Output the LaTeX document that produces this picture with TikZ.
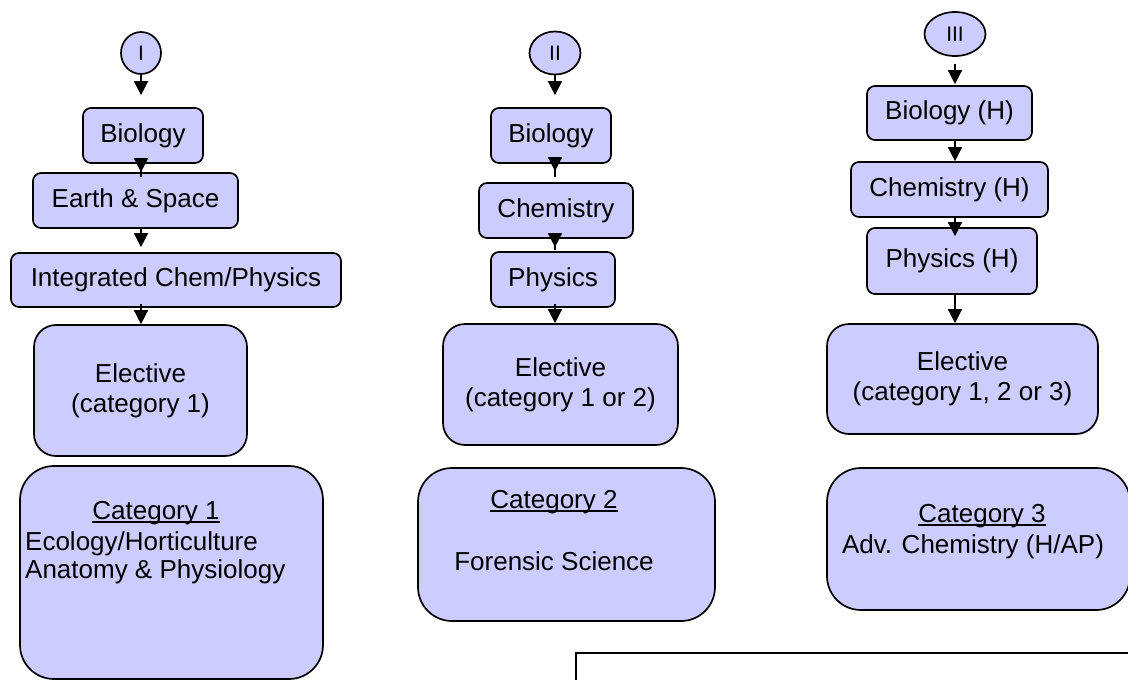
\documentclass[tikz,border=0pt]{standalone}
\usepackage{fontspec}
\setmainfont{Liberation Sans}
\usetikzlibrary{positioning, shapes.geometric, arrows.meta}
\definecolor{lav}{HTML}{CCCCFF}
\newcommand{\cathead}[1]{\setbox0=\hbox{#1}\rlap{\rule[-3.5pt]{\wd0}{1.2pt}}\box0}

\begin{document}
\begin{tikzpicture}[x=1pt, y=-1pt,
  every node/.style={font=\fontsize{26}{30}\selectfont},
  course/.style={draw, line width=1.7pt, fill=lav, rounded corners=8pt, inner sep=0pt, align=center},
  elective/.style={course, rounded corners=22pt},
  catbox/.style={course, rounded corners=34pt},
  track/.style={draw, line width=1.7pt, fill=lav, ellipse, inner sep=0pt, font=\fontsize{21}{23}\selectfont},
  flow/.style={line width=1.6pt, -{Triangle[width=14pt,length=14pt]}},
  entry/.style={inner sep=0pt}]
  \useasboundingbox (0,0) rectangle (1128,680);

  \node[track, minimum width=40pt, minimum height=42pt] (trackI) at (141,53) {I};
  \node[course, minimum width=120pt, minimum height=55pt] (bioI) at (143,135.5) {Biology};
  \node[course, minimum width=205pt, minimum height=55pt] (earthI) at (135.5,200.5) {Earth \& Space};
  \node[course, minimum width=330pt, minimum height=54pt] (chemphysI) at (176,280) {Integrated Chem/Physics};
  \node[elective, minimum width=213pt, minimum height=131pt] (electI) at (140.5,390.5) {Elective\\(category 1)};
  \node[catbox, minimum width=303pt, minimum height=213pt] (catI) at (171.5,572.5) {};
  \node[entry, anchor=base] (catIhead) at (156,519) {\cathead{Category 1}};
  \node[entry, anchor=base west] (catIa) at (25,550) {Ecology/Horticulture};
  \node[entry, anchor=base west] (catIb) at (25,578) {Anatomy \& Physiology};

  \node[track, minimum width=51pt, minimum height=43pt] (trackII) at (555,53) {II};
  \node[course, minimum width=120pt, minimum height=55pt] (bioII) at (551,135.5) {Biology};
  \node[course, minimum width=154pt, minimum height=55pt] (chemII) at (556,210.5) {Chemistry};
  \node[course, minimum width=124pt, minimum height=55pt] (physII) at (553,279.5) {Physics};
  \node[elective, minimum width=235pt, minimum height=121pt] (electII) at (560.5,384.5) {Elective\\(category 1 or 2)};
  \node[catbox, minimum width=297pt, minimum height=153pt] (catII) at (566.5,544.5) {};
  \node[entry, anchor=base] (catIIhead) at (554,508) {\cathead{Category 2}};
  \node[entry, anchor=base] (catIIa) at (554,570) {Forensic Science};

  \node[track, minimum width=61pt, minimum height=44pt] (trackIII) at (955,34) {III};
  \node[course, minimum width=165pt, minimum height=54pt] (bioIII) at (949.5,113) {Biology (H)};
  \node[course, minimum width=197pt, minimum height=55pt] (chemIII) at (949.5,189.5) {Chemistry (H)};
  \node[course, minimum width=170pt, minimum height=66pt] (physIII) at (952,261) {Physics (H)};
  \node[elective, minimum width=271pt, minimum height=110pt] (electIII) at (962.5,379) {Elective\\(category 1, 2 or 3)};
  \node[catbox, minimum width=303pt, minimum height=142pt] (catIII) at (978.5,539) {};
  \node[entry, anchor=base] (catIIIhead) at (982,522) {\cathead{Category 3}};
  \node[entry, anchor=base] (catIIIa) at (973,553) {Adv. Chemistry (H/AP)};

  \node[draw, line width=1.7pt, fill=white, minimum width=570pt, minimum height=60pt, anchor=north west] (notes) at (575,652) {};

  \draw[flow, shorten >=12pt] (trackI) -- (trackI |- bioI.north);
  \draw[flow, shorten <=-13pt] (trackI |- bioI.south) -- (trackI |- earthI.north);
  \draw[flow, shorten >=5pt] (trackI |- earthI.south) -- (trackI |- chemphysI.north);
  \draw[flow, shorten <=-4pt] (trackI |- chemphysI.south) -- (trackI |- electI.north);

  \draw[flow, shorten >=12pt] (trackII) -- (trackII |- bioII.north);
  \draw[flow, shorten <=-13pt, shorten >=11pt] (trackII |- bioII.south) -- (trackII |- chemII.north);
  \draw[flow, shorten <=-11pt, shorten >=4pt] (trackII |- chemII.south) -- (trackII |- physII.north);
  \draw[flow, shorten <=-4pt] (trackII |- physII.south) -- (trackII |- electII.north);

  \draw[flow, shorten <=7pt, shorten >=1pt] (trackIII) -- (trackIII |- bioIII.north);
  \draw[flow] (trackIII |- bioIII.south) -- (trackIII |- chemIII.north);
  \draw[flow, shorten <=-2pt, shorten >=-9pt] (trackIII |- chemIII.south) -- (trackIII |- physIII.north);
  \draw[flow] (trackIII |- physIII.south) -- (trackIII |- electIII.north);
\end{tikzpicture}
\end{document}
